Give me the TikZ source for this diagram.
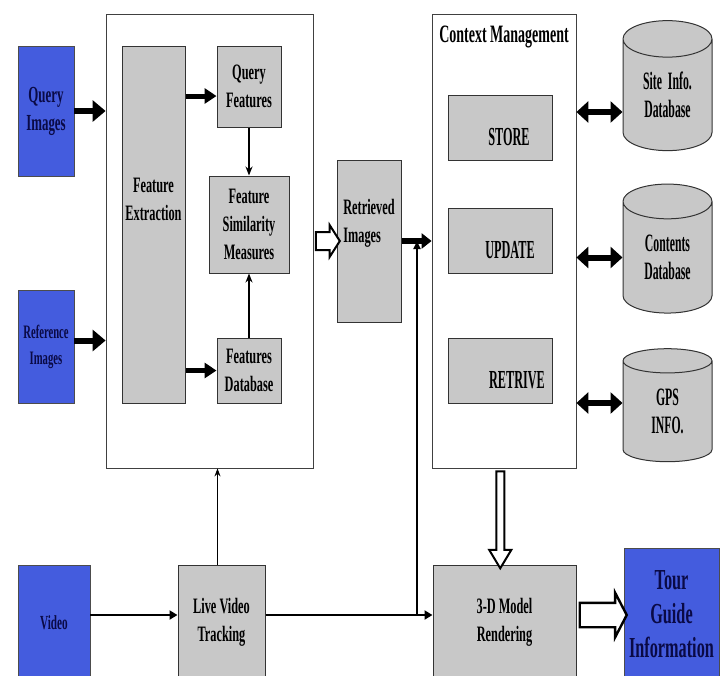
\documentclass[tikz,border=0pt]{standalone}
\usepackage{fontspec}
\setmainfont{Liberation Serif}[FakeStretch=0.56]
\newfontfamily\tallfont{Liberation Serif}[FakeStretch=0.47]
\usetikzlibrary{arrows.meta,shapes.geometric,shapes.arrows,calc}
\definecolor{tourblue}{RGB}{68,92,222}
\definecolor{boxgray}{RGB}{200,200,200}
\definecolor{navytext}{RGB}{10,10,70}

\begin{document}
\begin{tikzpicture}[x=1pt,y=-1pt,
  graybox/.style={rectangle, draw=black!80, line width=1pt, fill=boxgray, align=center, font=\bfseries\fontsize{22}{28}\selectfont, inner sep=0pt},
  bluebox/.style={rectangle, draw=black!70, line width=0.8pt, fill=tourblue, text=navytext, align=center, font=\bfseries\fontsize{23}{28}\selectfont, inner sep=0pt},
  frame/.style={rectangle, draw=black!75, line width=0.8pt, fill=white},
  opslabel/.style={font=\tallfont\bfseries\fontsize{26}{30}\selectfont, yshift=-10pt},
  dbcyl/.style={cylinder, shape border rotate=90, aspect=0.75, draw=black!80, line width=1pt, fill=boxgray, align=center, font=\tallfont\bfseries\fontsize{25}{28}\selectfont, inner sep=0pt},
  fatarrow/.style={-{Triangle[length=13pt,width=21pt]}, line width=6pt},
  dblarrow/.style={{Triangle[length=12pt,width=21pt]}-{Triangle[length=12pt,width=21pt]}, line width=6pt},
  thinarrow/.style={-{Stealth[length=9pt,width=7pt]}, line width=1.6pt},
  midarrow/.style={-{Triangle[length=8pt,width=9pt]}, line width=2.8pt},
  hollowarrow/.style={single arrow, draw=black, line width=2pt, fill=white}
]
\useasboundingbox (0,0) rectangle (725,675);

% inputs
\node[bluebox, minimum width=56pt, minimum height=130pt] (qimg) at (46,111) {Query\\Images};
\node[bluebox, minimum width=56pt, minimum height=113pt, font=\bfseries\fontsize{19}{26}\selectfont] (rimg) at (46,346.5) {Reference\\Images};

% feature block
\node[frame, minimum width=207pt, minimum height=454pt] (fblock) at (209.5,241) {};
\node[graybox, minimum width=63pt, minimum height=357pt, text depth=50pt] (fext) at (153.5,224.5) {Feature\\Extraction};
\node[graybox, minimum width=64pt, minimum height=81pt] (qfeat) at (249,86.5) {Query\\Features};
\node[graybox, minimum width=80pt, minimum height=97pt] (fsim) at (249,224.5) {Feature\\Similarity\\Measures};
\node[graybox, minimum width=64pt, minimum height=65pt] (fdb) at (249,370.5) {Features\\Database};

\node[graybox, minimum width=64pt, minimum height=162pt, align=left, text depth=40pt] (retr) at (369,241) {Retrieved\\Images};

% context management
\node[frame, minimum width=144pt, minimum height=454pt] (ctx) at (504,241) {};
\node[anchor=north, font=\bfseries\fontsize{25}{30}\selectfont, inner sep=2pt] (ctxtitle) at ([yshift=-10pt]ctx.north) {Context Management};
\node[graybox, minimum width=104pt, minimum height=65pt, label={[opslabel, xshift=9pt]center:STORE}] (store) at (500,127.5) {};
\node[graybox, minimum width=104pt, minimum height=65pt, label={[opslabel, xshift=10pt]center:UPDATE}] (upd) at (500,240.5) {};
\node[graybox, minimum width=104pt, minimum height=65pt, label={[opslabel, xshift=17pt]center:RETRIVE}] (retv) at (500,370.5) {};

% databases
\node[dbcyl, minimum width=89pt, minimum height=130pt] (site) at (667.5,95) {Site\ \ Info.\\Database};
\node[dbcyl, minimum width=89pt, minimum height=129pt] (contents) at (667.5,257.5) {Contents\\Database};
\node[dbcyl, minimum width=89pt, minimum height=113pt] (gps) at (667.5,411.5) {GPS\\INFO.};

% bottom row
\node[bluebox, minimum width=72pt, minimum height=115pt, font=\bfseries\fontsize{20}{26}\selectfont] (video) at (54,622.5) {Video};
\node[graybox, minimum width=87pt, minimum height=115pt] (vtrack) at (221.5,622.5) {Live Video\\Tracking};
\node[graybox, minimum width=143pt, minimum height=115pt] (model3d) at (504.5,622.5) {3-D Model\\Rendering};
\node[bluebox, minimum width=95pt, minimum height=132pt, font=\bfseries\fontsize{29}{34}\selectfont] (tour) at (671.5,614) {Tour\\Guide\\Information};

% connectors
\coordinate (vrow) at (0,615);
\coordinate (tap) at (417,0);
\coordinate (siterow) at ([yshift=-17pt]site.west);
\coordinate (gpsrow) at ([yshift=8.5pt]gps.west);

\draw[fatarrow] (qimg.east) -- (qimg.east -| fblock.west);
\draw[fatarrow] ([yshift=6pt]rimg.east) -- ([yshift=6pt]rimg.east -| fblock.west);
\draw[fatarrow, line width=5pt, -{Triangle[length=12pt,width=15pt]}] ([yshift=-9.5pt]qfeat.west -| fext.east) -- ([yshift=-9.5pt]qfeat.west);
\draw[fatarrow, line width=5pt, -{Triangle[length=12pt,width=15pt]}] (fdb.west -| fext.east) -- (fdb.west);
\draw[thinarrow] (qfeat) -- (fsim);
\draw[thinarrow] (fdb) -- (fsim);

\node[hollowarrow, inner xsep=0pt, inner ysep=8pt, single arrow head extend=7pt, single arrow tip angle=115, minimum height=24pt] (fb2ri) at ($(fblock.east)!0.5!(retr.west)$) {};
\draw[fatarrow, -{Triangle[length=10pt,width=15pt]}] (retr.east) -- (retr.east -| ctx.west);

\draw[dblarrow] (ctx.east |- siterow) -- (siterow);
\draw[dblarrow] (ctx.east |- contents.west) -- (contents.west);
\draw[dblarrow] (ctx.east |- gpsrow) -- (gpsrow);

\draw[thinarrow, line width=1.2pt, -{Stealth[length=8pt,width=6pt]}] ([xshift=-4pt]vtrack.north) -- ([xshift=-4pt]vtrack.north |- fblock.south);
\draw[midarrow] (video.east |- vrow) -- (vtrack.west |- vrow);
\draw[midarrow] (vtrack.east |- vrow) -- (model3d.west |- vrow);
\draw[line width=1.8pt, -{Triangle[length=8pt,width=7pt]}] (tap |- vrow) -- (tap |- retr.east);

\node[hollowarrow, shape border rotate=270, inner xsep=3pt, inner ysep=0pt, single arrow head extend=7pt, single arrow tip angle=62, minimum height=97pt] (ctx2mod) at ([xshift=-4pt]$(ctx.south)!0.5!(model3d.north)$) {};
\node[hollowarrow, line width=2.4pt, inner xsep=0pt, inner ysep=11pt, single arrow head extend=10pt, single arrow tip angle=125, minimum height=47pt] (mod2tour) at ($(model3d.east |- vrow)!0.5!(tour.west |- vrow)$) {};
\end{tikzpicture}
\end{document}
